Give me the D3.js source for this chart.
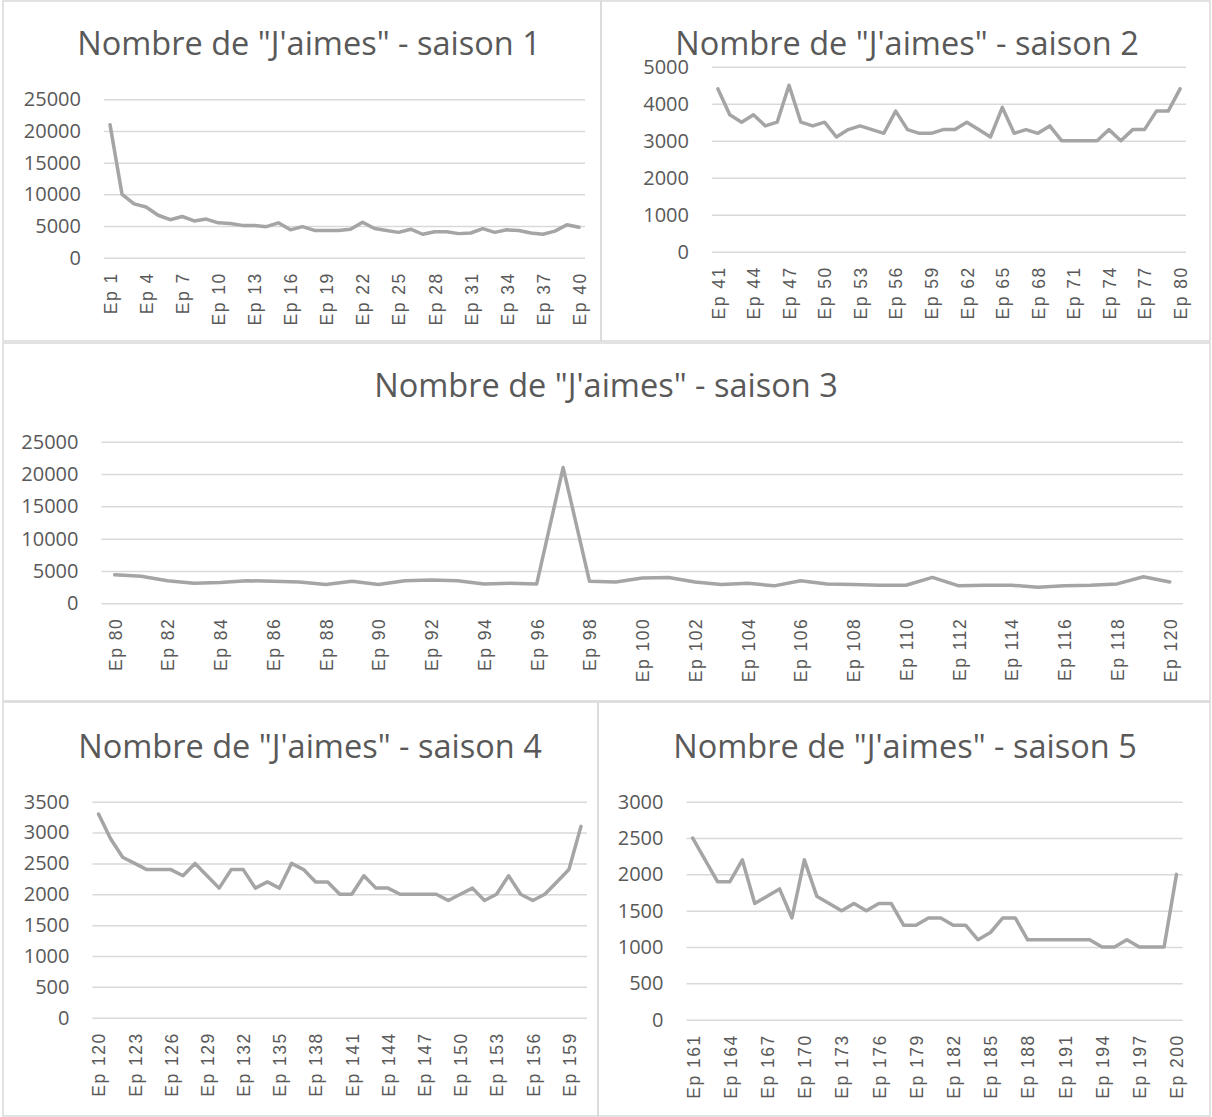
<!DOCTYPE html>
<html>
<head>
<meta charset="utf-8">
<script src="https://cdn.jsdelivr.net/npm/d3@7"></script>
<style>
  html, body { margin: 0; padding: 0; background: #fff; }
  svg { display: block; }
</style>
</head>
<body>
<svg id="chart" width="1212" height="1117"></svg>
<script>
// ---------- DATA ----------
const titlePrefix = 'Nombre de "J\'aimes" - saison ';

const s1Episodes = [1, 40];
const s1Values = [21000, 10000, 8500, 8000, 6700, 6000, 6500, 5800, 6100, 5500,
  5400, 5100, 5100, 4900, 5500, 4400, 4900, 4300, 4300, 4300,
  4500, 5600, 4600, 4300, 4000, 4500, 3700, 4100, 4100, 3800,
  3900, 4600, 4000, 4400, 4300, 3900, 3700, 4200, 5200, 4800];
const s1TickLabels = ["Ep 1","Ep 4","Ep 7","Ep 10","Ep 13","Ep 16","Ep 19","Ep 22","Ep 25","Ep 28","Ep 31","Ep 34","Ep 37","Ep 40"];
const s1YTicks = [0, 5000, 10000, 15000, 20000, 25000];

const s2Episodes = [41, 80];
const s2Values = [4400, 3700, 3500, 3700, 3400, 3500, 4500, 3500, 3400, 3500,
  3100, 3300, 3400, 3300, 3200, 3800, 3300, 3200, 3200, 3300,
  3300, 3500, 3300, 3100, 3900, 3200, 3300, 3200, 3400, 3000,
  3000, 3000, 3000, 3300, 3000, 3300, 3300, 3800, 3800, 4400];
const s2TickLabels = ["Ep 41","Ep 44","Ep 47","Ep 50","Ep 53","Ep 56","Ep 59","Ep 62","Ep 65","Ep 68","Ep 71","Ep 74","Ep 77","Ep 80"];
const s2YTicks = [0, 1000, 2000, 3000, 4000, 5000];

const s3Episodes = [80, 120];
const s3Values = [4400, 4200, 3500, 3100, 3200, 3500, 3400, 3300, 2900, 3400,
  2900, 3500, 3600, 3500, 3000, 3100, 3000, 21000, 3400, 3300,
  3900, 4000, 3300, 2900, 3100, 2700, 3500, 3000, 2900, 2800,
  2800, 4000, 2700, 2800, 2800, 2500, 2700, 2800, 3000, 4100, 3300];
const s3TickLabels = ["Ep 80","Ep 82","Ep 84","Ep 86","Ep 88","Ep 90","Ep 92","Ep 94","Ep 96","Ep 98","Ep 100",
  "Ep 102","Ep 104","Ep 106","Ep 108","Ep 110","Ep 112","Ep 114","Ep 116","Ep 118","Ep 120"];
const s3YTicks = [0, 5000, 10000, 15000, 20000, 25000];

const s4Episodes = [120, 160];
const s4Values = [3300, 2900, 2600, 2500, 2400, 2400, 2400, 2300, 2500, 2300,
  2100, 2400, 2400, 2100, 2200, 2100, 2500, 2400, 2200, 2200,
  2000, 2000, 2300, 2100, 2100, 2000, 2000, 2000, 2000, 1900,
  2000, 2100, 1900, 2000, 2300, 2000, 1900, 2000, 2200, 2400, 3100];
const s4TickLabels = ["Ep 120","Ep 123","Ep 126","Ep 129","Ep 132","Ep 135","Ep 138","Ep 141","Ep 144","Ep 147","Ep 150","Ep 153","Ep 156","Ep 159"];
const s4YTicks = [0, 500, 1000, 1500, 2000, 2500, 3000, 3500];

const s5Episodes = [161, 200];
const s5Values = [2500, 2200, 1900, 1900, 2200, 1600, 1700, 1800, 1400, 2200,
  1700, 1600, 1500, 1600, 1500, 1600, 1600, 1300, 1300, 1400,
  1400, 1300, 1300, 1100, 1200, 1400, 1400, 1100, 1100, 1100,
  1100, 1100, 1100, 1000, 1000, 1100, 1000, 1000, 1000, 2000];
const s5TickLabels = ["Ep 161","Ep 164","Ep 167","Ep 170","Ep 173","Ep 176","Ep 179","Ep 182","Ep 185","Ep 188","Ep 191","Ep 194","Ep 197","Ep 200"];
const s5YTicks = [0, 500, 1000, 1500, 2000, 2500, 3000];

// ---------- LAYOUT ----------
const seasons = [
  { n: 1, eps: s1Episodes, vals: s1Values, xt: s1TickLabels, yt: s1YTicks,
    box: [3, 1, 598, 340], plot: [104, 585, 99.3, 257.7], title: [309, 55] },
  { n: 2, eps: s2Episodes, vals: s2Values, xt: s2TickLabels, yt: s2YTicks,
    box: [601, 1, 609, 340], plot: [712, 1186, 66.7, 251.7], title: [907, 55] },
  { n: 3, eps: s3Episodes, vals: s3Values, xt: s3TickLabels, yt: s3YTicks,
    box: [3, 343, 1207, 358], plot: [101.5, 1183, 441.7, 603.3], title: [606, 397] },
  { n: 4, eps: s4Episodes, vals: s4Values, xt: s4TickLabels, yt: s4YTicks,
    box: [3, 702, 595, 414], plot: [92.5, 587, 801.7, 1017.7], title: [310, 758] },
  { n: 5, eps: s5Episodes, vals: s5Values, xt: s5TickLabels, yt: s5YTicks,
    box: [598, 702, 612, 414], plot: [686.5, 1182.7, 801.7, 1019.7], title: [905, 758] }
];

const TEXT = "#595959", GRID = "#d9d9d9", LINE = "#a5a5a5";
const LS = 1.5;
const svg = d3.select("#chart");

seasons.forEach(s => {
  const cats = d3.range(s.eps[0], s.eps[1] + 1).map(e => "Ep " + e);
  const data = cats.map((c, i) => ({ c, v: s.vals[i] }));
  const [left, right, top, bottom] = s.plot;
  const yMax = d3.max(s.yt);

  const x = d3.scalePoint().domain(cats).range([left, right]).padding(0.5);
  const y = d3.scaleLinear().domain([0, yMax]).range([bottom, top]);

  // panel border
  svg.append("rect")
    .attr("x", s.box[0]).attr("y", s.box[1])
    .attr("width", s.box[2]).attr("height", s.box[3])
    .attr("fill", "none").attr("stroke", GRID).attr("stroke-width", 1.5);

  // title
  svg.append("text")
    .attr("x", s.title[0]).attr("y", s.title[1])
    .attr("text-anchor", "middle")
    .attr("fill", TEXT)
    .style("font-family", "'Open Sans', sans-serif")
    .style("font-size", "32.5px")
    .text(titlePrefix + s.n);

  // y axis + gridlines
  const gy = svg.append("g").attr("transform", `translate(${left},0)`)
    .call(d3.axisLeft(y).tickValues(s.yt).tickSize(-(right - left)).tickPadding(23).tickFormat(d3.format("d")));
  gy.select(".domain").remove();
  gy.selectAll(".tick line").attr("stroke", GRID).attr("stroke-width", 1.5);
  gy.selectAll(".tick text")
    .attr("fill", TEXT)
    .style("font-family", "'Open Sans', sans-serif")
    .style("font-size", "20px");

  // x axis
  const gx = svg.append("g").attr("transform", `translate(0,${bottom})`)
    .call(d3.axisBottom(x).tickValues(s.xt).tickSize(0));
  gx.select(".domain").remove();
  gx.selectAll(".tick text")
    .attr("transform", "rotate(-90)")
    .attr("x", -(16 - LS)).attr("y", 0).attr("dy", "0.36em")
    .style("text-anchor", "end")
    .attr("fill", TEXT)
    .style("font-family", "'Liberation Sans', Arial, sans-serif")
    .style("font-size", "17.5px")
    .style("letter-spacing", LS + "px");

  // line
  svg.append("path")
    .datum(data)
    .attr("fill", "none")
    .attr("stroke", LINE)
    .attr("stroke-width", 3.5)
    .attr("stroke-linejoin", "round")
    .attr("stroke-linecap", "round")
    .attr("d", d3.line().x(d => x(d.c)).y(d => y(d.v)));
});
</script>
</body>
</html>
